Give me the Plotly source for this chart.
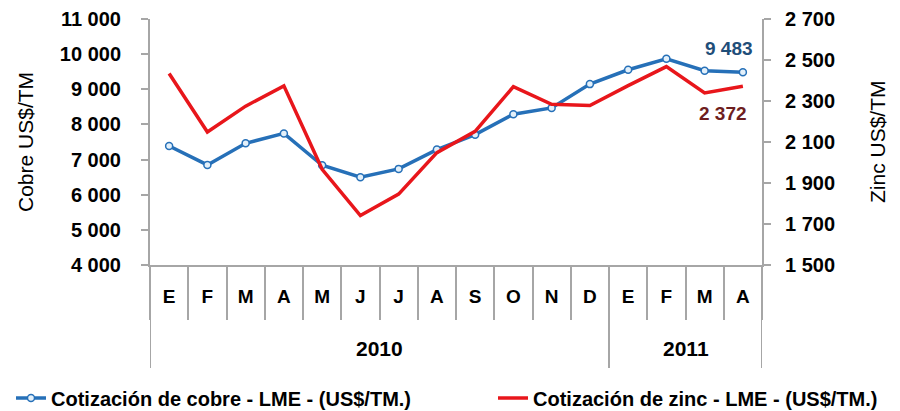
"""Copper and zinc LME prices, monthly, Jan 2010 - Apr 2011."""

import plotly.graph_objects as go

# ---- data -------------------------------------------------------------
months = ["E", "F", "M", "A", "M", "J", "J", "A", "S", "O", "N", "D",
          "E", "F", "M", "A"]
years = ["2010"] * 12 + ["2011"] * 4
cobre = [7386, 6848, 7463, 7745, 6838, 6499, 6735, 7284, 7709, 8292, 8470,
         9147, 9556, 9868, 9530, 9483]
zinc = [2434, 2149, 2275, 2374, 1967, 1741, 1846, 2048, 2152, 2370, 2284,
        2278, 2375, 2468, 2339, 2372]

name_cobre = "Cotización de cobre - LME - (US$/TM.)"
name_zinc = "Cotización de zinc - LME - (US$/TM.)"

BLUE = "#2670B8"
RED = "#E8161B"
AXIS = "#A6A6A6"
FONT = "Liberation Sans, Arial, sans-serif"
# page body has an 8px margin, so the figure is 8px smaller than the window
W, H = 892, 403
TOP = 11
PLOT_W, PLOT_H = 612, 246

idx = list(range(len(months)))

fig = go.Figure()

fig.add_trace(go.Scatter(
    x=idx, y=cobre, name=name_cobre, yaxis="y", legend="legend",
    mode="lines+markers",
    line=dict(color=BLUE, width=3.5),
    marker=dict(symbol="circle", size=7, color="#E3F0FA",
                line=dict(color=BLUE, width=1.5)),
))
fig.add_trace(go.Scatter(
    x=idx, y=zinc, name=name_zinc, yaxis="y2", legend="legend2",
    mode="lines",
    line=dict(color=RED, width=3.5),
))

# last-value labels
fig.add_annotation(x=idx[-1], y=cobre[-1], xref="x", yref="y",
                   text=f"{cobre[-1]:,}".replace(",", " "),
                   showarrow=False, xshift=-14, yshift=24,
                   font=dict(family=FONT, size=19, color="#1F4E79", weight="bold"))
fig.add_annotation(x=idx[-1], y=zinc[-1], xref="x", yref="y2",
                   text=f"{zinc[-1]:,}".replace(",", " "),
                   showarrow=False, xshift=-20, yshift=-27,
                   font=dict(family=FONT, size=19, color="#6E1E1E", weight="bold"))

# year grouping row under the month labels
year_groups = []
for i, yr in enumerate(years):
    if not year_groups or year_groups[-1][0] != yr:
        year_groups.append([yr, i, i])
    else:
        year_groups[-1][2] = i

sep_bottom = -103 / PLOT_H
for yr, first, last in year_groups:
    fig.add_annotation(x=(first + last) / 2, y=-83 / PLOT_H, xref="x", yref="paper",
                       text=yr, showarrow=False, yanchor="middle",
                       font=dict(family=FONT, size=21, color="black", weight="bold"))
    fig.add_shape(type="line", xref="x", yref="paper",
                  x0=first - 0.5, x1=first - 0.5, y0=0, y1=sep_bottom,
                  line=dict(color=AXIS, width=2))
fig.add_shape(type="line", xref="x", yref="paper",
              x0=idx[-1] + 0.5, x1=idx[-1] + 0.5, y0=0, y1=sep_bottom,
              line=dict(color=AXIS, width=2))

# axis titles
fig.add_annotation(x=-125 / PLOT_W, y=0.5, xref="paper", yref="paper",
                   xanchor="center", yanchor="middle",
                   text="Cobre US$/TM", textangle=-90, showarrow=False,
                   font=dict(family=FONT, size=21, color="black"))
fig.add_annotation(x=1 + 115 / PLOT_W, y=0.5, xref="paper", yref="paper",
                   xanchor="center", yanchor="middle",
                   text="Zinc US$/TM", textangle=-90, showarrow=False,
                   font=dict(family=FONT, size=21, color="black"))

tick_font = dict(family=FONT, size=20, color="black", weight="bold")
month_font = dict(family=FONT, size=19, color="black", weight="bold")
legend_font = dict(family=FONT, size=20, color="black", weight="bold")

fig.update_layout(
    width=W, height=H,
    margin=dict(l=142, r=W - 142 - PLOT_W, t=TOP, b=H - TOP - PLOT_H),
    paper_bgcolor="white", plot_bgcolor="white",
    separators=", ",
    font=dict(family=FONT, color="black"),
    xaxis=dict(
        range=[-0.5, len(months) - 0.5],
        tickvals=idx, ticktext=months,
        ticks="", ticklabelstandoff=13,
        tickfont=month_font,
        showgrid=False, zeroline=False, automargin=False,
        showline=True, linecolor=AXIS, linewidth=2,
        minor=dict(ticks="outside", tick0=-0.5, dtick=1, ticklen=53,
                   tickcolor=AXIS, tickwidth=2, showgrid=False),
    ),
    yaxis=dict(
        range=[4000, 11000], tick0=4000, dtick=1000, tickformat=",d",
        ticks="outside", ticklen=7, tickcolor=AXIS, tickwidth=2,
        tickfont=tick_font, ticklabelstandoff=16, automargin=False,
        ticklabeloverflow="allow",
        showgrid=False, zeroline=False,
        showline=True, linecolor=AXIS, linewidth=2,
    ),
    yaxis2=dict(
        range=[1500, 2700], tick0=1500, dtick=200, tickformat=",d",
        overlaying="y", side="right",
        ticks="outside", ticklen=7, tickcolor=AXIS, tickwidth=2,
        tickfont=tick_font, ticklabelstandoff=10, automargin=False,
        ticklabeloverflow="allow",
        showgrid=False, zeroline=False,
        showline=True, linecolor=AXIS, linewidth=2,
    ),
    showlegend=True,
    legend=dict(
        orientation="h", xref="container", yref="container",
        x=3 / W, xanchor="left", y=13 / H, yanchor="middle",
        font=legend_font, bgcolor="rgba(0,0,0,0)",
    ),
    legend2=dict(
        orientation="h", xref="container", yref="container",
        x=485 / W, xanchor="left", y=13 / H, yanchor="middle",
        font=legend_font, bgcolor="rgba(0,0,0,0)",
    ),
)

fig.write_html("out.html")
